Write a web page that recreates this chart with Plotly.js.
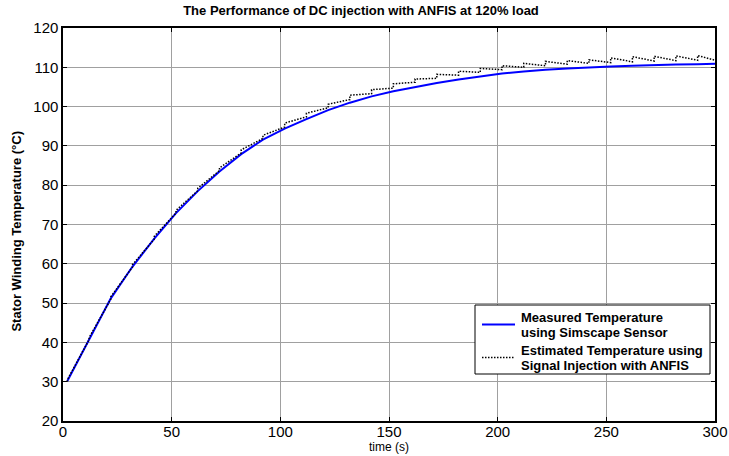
<!DOCTYPE html>
<html>
<head>
<meta charset="utf-8">
<script src="https://cdn.plot.ly/plotly-3.0.1.min.js"></script>
<style>
  html, body { margin: 0; padding: 0; background: #fff; }
  #chart { width: 729px; height: 456px; }
</style>
</head>
<body>
<div id="chart"></div>
<script>
// Sample instants (s) of the recorded temperatures
const sampleTime = [2, 12, 22, 32, 42, 52, 62, 72, 82, 92,
                    102, 112, 122, 132, 142, 152, 162, 172, 182, 192,
                    202, 212, 222, 232, 242, 252, 262, 272, 282, 292];
const endTime = 300;

// Measured stator winding temperature (°C), Simscape sensor
const measuredTemp = [30.2, 40.9, 51.2, 59.3, 66.4, 72.9, 78.5, 83.5, 87.9, 91.6,
                      94.4, 96.8, 99.1, 101.0, 102.6, 103.9, 105.0, 106.0, 106.9, 107.7,
                      108.4, 108.9, 109.4, 109.7, 110.0, 110.2, 110.4, 110.6, 110.7, 110.8];
const measuredEnd = 110.9;

// ANFIS estimate: value reached just before each update and value right after it
const estimateBefore = [30.0, 40.7, 51.0, 59.2, 66.3, 72.9, 78.6, 83.7, 88.2, 91.9,
                        94.8, 97.4, 99.7, 101.8, 103.3, 104.7, 106.2, 107.2, 108.0, 108.7,
                        109.4, 110.0, 110.4, 110.8, 111.0, 111.2, 111.4, 111.6, 111.7, 111.8];
const estimateAfter  = [30.5, 41.2, 51.6, 59.8, 67.0, 73.6, 79.2, 84.4, 89.0, 92.7,
                        95.8, 98.3, 100.6, 102.9, 104.3, 105.8, 107.0, 108.2, 109.0, 109.7,
                        110.4, 111.0, 111.5, 111.7, 111.9, 112.4, 112.7, 112.8, 112.9, 113.0];
const estimateEnd = 111.8;

const xTicks = [0, 50, 100, 150, 200, 250, 300];
const yTicks = [20, 30, 40, 50, 60, 70, 80, 90, 100, 110, 120];

// Legend entries, one pair of text lines per series
const legendLines = [
  ['Measured Temperature', 'using Simscape Sensor'],
  ['Estimated Temperature using', 'Signal Injection with ANFIS']
];

const MEASURED_LINE = { color: '#0000ff', width: 2 };
const ESTIMATE_LINE = { color: '#000000', width: 1.5, dash: '1.5px,1.5px' };

// Measured curve
const mx = sampleTime.concat([endTime]);
const my = measuredTemp.concat([measuredEnd]);

// Estimated curve with a small jump at every update instant
const ex = [], ey = [];
sampleTime.forEach((t, i) => {
  ex.push(t, t);
  ey.push(estimateBefore[i], estimateAfter[i]);
});
ex.push(endTime);
ey.push(estimateEnd);

const FONT = 'Liberation Sans, Arial, sans-serif';

const traces = [
  {
    x: mx, y: my, type: 'scatter', mode: 'lines',
    name: legendLines[0].join(' '),
    line: MEASURED_LINE, hoverinfo: 'skip'
  },
  {
    x: ex, y: ey, type: 'scatter', mode: 'lines',
    name: legendLines[1].join(' '),
    line: ESTIMATE_LINE, hoverinfo: 'skip'
  }
];

// Plot area in pixels (margins below) for placing the legend box
const W = 729, H = 456;
const M = { l: 63, r: 14, t: 28, b: 35 };
const PW = W - M.l - M.r, PH = H - M.t - M.b;
const px = v => (v - M.l) / PW;          // pixel column -> paper x
const py = v => (H - M.b - v) / PH;      // pixel row -> paper y

// Legend box geometry (pixels)
const LEG = { left: 475, right: 710, top: 305, bottom: 374,
              sampleX0: 482, sampleX1: 515, textX: 519,
              rows: [[317, 332], [350, 365]] };

const shapes = [
  {
    type: 'rect', xref: 'paper', yref: 'paper',
    x0: px(LEG.left), x1: px(LEG.right), y0: py(LEG.bottom), y1: py(LEG.top),
    line: { color: '#000', width: 1 }, fillcolor: '#fff', layer: 'above'
  }
];
const annotations = [
  {
    text: '<b>Stator Winding Temperature (°C)</b>',
    xref: 'paper', yref: 'paper', x: 0, y: 0.482,
    xshift: -46, xanchor: 'center', yanchor: 'middle',
    textangle: -90, showarrow: false,
    font: { family: FONT, size: 13, color: '#000' }
  },
  {
    text: 'time (s)',
    xref: 'paper', yref: 'paper', x: 0.5, y: 0,
    yshift: -35, xanchor: 'center', yanchor: 'bottom',
    showarrow: false,
    font: { family: FONT, size: 12, color: '#000' }
  }
];

[MEASURED_LINE, ESTIMATE_LINE].forEach((style, i) => {
  const rows = LEG.rows[i];
  const mid = (rows[0] + rows[1]) / 2;
  shapes.push({
    type: 'line', xref: 'paper', yref: 'paper',
    x0: px(LEG.sampleX0), x1: px(LEG.sampleX1), y0: py(mid), y1: py(mid),
    line: style, layer: 'above'
  });
  legendLines[i].forEach((txt, j) => {
    annotations.push({
      text: '<b>' + txt + '</b>',
      xref: 'paper', yref: 'paper', x: px(LEG.textX), y: py(rows[j]),
      xanchor: 'left', yanchor: 'middle', showarrow: false,
      font: { family: FONT, size: 13, color: '#000' }
    });
  });
});

const axisCommon = {
  showline: true, linecolor: '#000', linewidth: 1.6, mirror: 'ticks',
  ticks: 'inside', ticklen: 4, tickwidth: 1, tickcolor: '#000',
  showgrid: true, gridcolor: '#a0a0a0', gridwidth: 1,
  zeroline: false,
  tickfont: { family: FONT, size: 15, color: '#000' }
};

const layout = {
  width: W, height: H,
  margin: M,
  paper_bgcolor: '#fff', plot_bgcolor: '#fff',
  title: {
    text: '<b>The Performance of DC injection with ANFIS at 120% load</b>',
    font: { family: FONT, size: 13, color: '#000' },
    xref: 'container', x: 361 / W, xanchor: 'center',
    yref: 'container', y: 1 - 10 / H, yanchor: 'middle'
  },
  xaxis: Object.assign({}, axisCommon, {
    range: [0, 300], tickvals: xTicks, ticktext: xTicks.map(String),
    ticklabelstandoff: -4
  }),
  yaxis: Object.assign({}, axisCommon, {
    range: [20, 120], tickvals: yTicks, ticktext: yTicks.map(String)
  }),
  showlegend: false,
  shapes: shapes,
  annotations: annotations
};

Plotly.newPlot('chart', traces, layout, { staticPlot: true, displayModeBar: false });
</script>
</body>
</html>
